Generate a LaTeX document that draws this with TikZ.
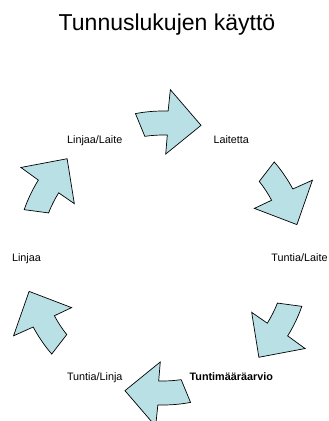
\documentclass[tikz,border=0pt]{standalone}
\usepackage{fontspec}
\setmainfont{Liberation Sans}
\definecolor{cyclefill}{RGB}{185,224,228}
\tikzset{
   cyclearrow/.style={draw=black, fill=cyclefill, line width=0.7pt, line join=miter},
   lbl/.style={inner sep=0pt, anchor=base, font=\fontsize{10.8}{13}\selectfont}
}
\begin{document}
\begin{tikzpicture}[x=1pt, y=1pt]
      \clip (-163,-163) rectangle (166,258);
      \node[anchor=base, inner sep=0pt, font=\fontsize{23}{28}\selectfont] (title) at (4,227) {Tunnuslukujen käyttö};
      \begin{scope}
         \def \Steps {
            lai/60/{Laitetta},
            tla/0/{Tuntia/Laite},
            tma/-60/{\textbf{Tuntimääräarvio}},
            tli/-120/{Tuntia/Linja},
            lin/180/{Linjaa},
            lila/120/{Linjaa/Laite}}
         \foreach \u / \a / \n in \Steps {
            \node[lbl, yshift=-3.9pt] (\u) at (\a:136.5) {\n};
         }
         \foreach \t in {88, 28, -32, -92, -152, 148} {
            \path[cyclearrow] ({\t+12.8}:147) arc[start angle={\t+12.8}, end angle=\t, radius=147]
               -- ({\t-0.5}:168.5) -- ({\t-14}:138) -- ({\t+0.5}:104) -- (\t:123)
               arc[start angle=\t, end angle={\t+10.5}, radius=123] -- cycle;
         }
      \end{scope}
   \end{tikzpicture}
\end{document}
